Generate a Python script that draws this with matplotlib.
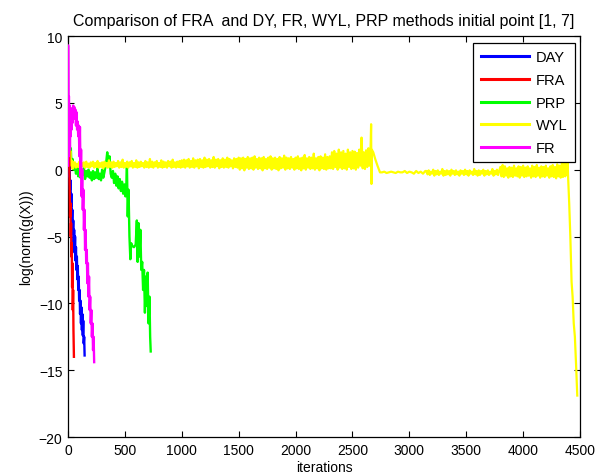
import numpy as np
import matplotlib
matplotlib.use("Agg")
import matplotlib.pyplot as plt

plt.rcParams['font.family'] = ['Liberation Sans', 'DejaVu Sans']

# ---------------- data ----------------
title = "Comparison of FRA  and DY, FR, WYL, PRP methods initial point [1, 7]"
xlabel = "iterations"
ylabel = "log(norm(g(X)))"
x_ticks = [0, 500, 1000, 1500, 2000, 2500, 3000, 3500, 4000, 4500]
y_ticks = [-20, -15, -10, -5, 0, 5, 10]

# DAY (blue)
day_x = [0, 3, 6, 10, 14, 18, 22, 26, 30, 34, 38, 42, 46, 50, 54, 58, 62, 66, 70,
         74, 78, 82, 86, 90, 94, 98, 102, 106, 110, 114, 118, 122, 126, 130, 134,
         138, 142, 146]
day_y = [0.5, 0.0, 0.4, -0.5, 0.2, -1.5, -0.8, -2.8, -1.8, -4.0, -3.0, -4.8, -3.8,
         -5.5, -4.5, -6.2, -5.0, -6.8, -5.8, -7.5, -6.5, -8.2, -7.2, -9.0, -8.0,
         -9.8, -9.0, -10.8, -9.8, -11.5, -10.3, -12.0, -10.8, -12.4, -11.3, -13.0,
         -12.5, -13.9]

# FRA (red)
fra_x = [0, 3, 6, 9, 12, 15, 18, 21, 24, 27, 30, 33, 36, 39, 42, 45, 48, 52]
fra_y = [0.5, 4.2, 2.5, 3.5, 0.0, -1.5, -3.5, -2.5, -5.0, -4.0, -6.5, -5.5, -8.8,
         -7.0, -10.5, -9.0, -12.0, -14.0]

# PRP (green)
prp_x = [0, 5, 10, 15, 20, 25, 30, 40, 50, 60, 70, 80, 90, 100, 110, 120, 130, 140,
         150, 160, 170, 180, 190, 200, 210, 220, 230, 240, 250, 260, 270, 280, 290,
         300, 310, 320, 335, 345, 355, 365, 375, 385, 395, 405, 415, 425, 435, 445,
         455, 465, 475, 485, 495, 505, 512, 518, 525, 532, 540, 548, 555, 565, 580,
         595, 605, 612, 620, 628, 636, 644, 652, 660, 668, 676, 684, 692, 700, 708,
         716, 722, 727]
prp_y = [0.5, 0.3, 1.0, 2.2, 0.5, 1.6, 0.2, 0.8, 0.0, 0.4, -0.3, 0.2, -0.5, 0.1,
         -0.6, 0.0, -0.4, 0.1, -0.7, -0.1, -0.5, 0.0, -0.6, -0.2, -0.8, -0.1, -0.7,
         -0.2, -0.6, 0.1, -0.7, -0.3, -0.8, 0.0, -0.6, -0.2, 0.5, 1.3, 0.3, 1.0,
         -0.3, -0.6, -0.1, -1.0, -0.3, -1.2, -0.5, -1.4, -0.7, -1.6, -0.9, -1.8,
         -1.1, -2.0, -1.3, 0.3, -3.5, -1.5, -5.0, -6.7, -5.5, -5.7, -5.8, -5.6,
         -3.8, -6.9, -4.0, -6.5, -4.5, -7.5, -6.9, -9.0, -7.5, -10.7, -8.0, -10.2,
         -7.7, -11.5, -9.5, -12.5, -13.6]

# WYL (yellow) - pieces: (first iteration, last iteration), values
wyl_head_x = [0, 4, 8, 12, 16, 20, 25, 30, 35, 40, 45, 50]
wyl_head_y = [0.4, 2.2, 0.6, 2.0, 0.3, 1.4, 0.2, 0.7, 0.1, 0.6, 0.1, 0.5]
wyl_b_range = (60, 1000)
wyl_b = [0.55, 0.15, 0.45, 0.2, 0.6, 0.1, 0.5, 0.25, 0.55, 0.15,
         0.6, 0.2, 0.45, 0.15, 0.55, 0.25, 0.6, 0.15, 0.5, 0.2,
         0.65, 0.15, 0.5, 0.2, 0.55, 0.1, 0.6, 0.25, 0.5, 0.15,
         0.7, 0.2, 0.55, 0.15, 0.6, 0.2, 0.5, 0.25, 0.65, 0.15,
         0.55, 0.2, 0.75, 0.15, 0.5, 0.2, 0.6, 0.15, 0.55, 0.25,
         0.65, 0.15, 0.5, 0.2, 0.7, 0.15, 0.55, 0.2, 0.6, 0.25,
         0.5, 0.15, 0.65, 0.2, 0.55, 0.15, 0.8, 0.2, 0.6, 0.15,
         0.55, 0.25, 0.65, 0.15, 0.5, 0.2, 0.7, 0.15, 0.6, 0.2,
         0.55, 0.15, 0.65, 0.25, 0.6, 0.15, 0.75, 0.2, 0.55, 0.15,
         0.6, 0.2, 0.65, 0.15, 0.7]
wyl_c_range = (1010, 1500)
wyl_c = [0.2, 0.75, 0.15, 0.7, 0.25, 0.8, 0.15, 0.65, 0.2, 0.85,
         0.15, 0.7, 0.25, 0.75, 0.1, 0.8, 0.2, 0.7, 0.15, 0.9,
         0.2, 0.75, 0.25, 0.8, 0.15, 0.7, 0.2, 0.95, 0.15, 0.75,
         0.25, 0.8, 0.1, 0.7, 0.2, 0.85, 0.15, 0.75, 0.2, 0.9,
         0.15, 0.8, 0.25, 0.7, 0.1, 0.85, 0.2, 0.8, 0.15, 0.9]
wyl_d_range = (1510, 2300)
wyl_d = [0.0, 0.85, 0.1, 0.9, -0.05, 0.8, 0.15, 0.95, 0.05, 0.85,
         0.1, 0.9, 0.0, 1.0, 0.15, 0.8, 0.05, 0.9, 0.1, 0.85,
         -0.05, 0.95, 0.1, 0.8, 0.05, 0.9, 0.15, 1.0, 0.0, 0.85,
         0.1, 0.9, 0.05, 0.8, -0.05, 0.95, 0.1, 0.85, 0.15, 1.05,
         0.0, 0.9, 0.1, 0.85, 0.05, 0.95, 0.15, 0.8, 0.0, 0.9,
         0.1, 1.0, 0.05, 0.85, -0.05, 0.9, 0.1, 1.1, 0.0, 0.85,
         0.15, 0.95, 0.05, 0.9, 0.1, 1.2, 0.0, 0.85, 0.1, 0.95,
         -0.05, 1.0, 0.1, 0.9, 0.05, 1.15, 0.0, 0.95, 0.1, 1.0]
wyl_e_range = (2310, 2660)
wyl_e = [0.1, 1.3, 0.05, 1.4, 0.2, 1.2, 0.0, 1.5, 0.15, 1.3,
         0.05, 1.4, 0.1, 1.2, 0.0, 1.5, 0.2, 1.3, 0.05, 1.4,
         0.1, 1.35, 0.0, 1.25, 0.15, 1.5, 0.3, 2.4, 0.1, 1.3,
         0.05, 1.45, 0.2, 1.6, 0.3, 1.8]
wyl_f_x = [2664, 2667, 2670, 2683, 2700, 2720, 2742]
wyl_f_y = [3.4, -1.07, 1.5, 1.3, 0.8, 0.3, -0.2]
wyl_g_range = (2760, 3140)
wyl_g = [-0.2, -0.15, -0.25, -0.2, -0.15, -0.2, -0.25, -0.15, -0.2, -0.2, -0.1,
         -0.25, -0.15, -0.2, -0.3, -0.1, -0.25, -0.15, -0.3, -0.1]
wyl_h_range = (3150, 4380)
wyl_h = [-0.1, -0.35, -0.05, -0.4, -0.15, -0.3, 0.0, -0.45, -0.1, -0.35,
         -0.05, -0.4, -0.15, -0.3, 0.05, -0.45, -0.1, -0.4, -0.05, -0.35,
         -0.1, -0.45, 0.0, -0.3, -0.1, -0.4, -0.05, -0.35, -0.15, -0.45,
         -0.05, -0.3, -0.1, -0.4, 0.0, -0.35, -0.1, -0.45, -0.05, -0.3,
         -0.15, -0.4, 0.05, -0.35, -0.1, -0.45, -0.05, -0.4, -0.1, -0.3,
         0.0, -0.45, -0.1, -0.35, -0.05, -0.4, -0.15, -0.3, 0.05, -0.45,
         -0.1, -0.35, 0.0, -0.4, -0.1,
         0.2, -0.5, 0.35, -0.55, 0.25, -0.45, 0.1, -0.6, 0.2, -0.5,
         0.15, -0.55, 0.3, -0.45, 0.1, -0.5, 0.25, -0.6, 0.2, -0.45,
         0.3, -0.55, 0.15, -0.5, 0.25, -0.45, 0.1, -0.6, 0.3, -0.5,
         0.2, -0.55, 0.35, -0.45, 0.15, -0.6, 0.25, -0.5, 0.2, -0.55,
         0.3, -0.45, 0.1, -0.6, 0.25, -0.5, 0.35, -0.55, 0.2, -0.65,
         0.4, -0.5, 0.3, -0.6, 0.5, -0.55, 0.7, -0.5, 0.95]
wyl_i_x = [4385, 4390, 4395, 4405, 4415, 4426, 4435, 4445, 4455, 4465, 4476]
wyl_i_y = [-0.4, 1.1, -0.45, -2.5, -5.0, -8.4, -9.5, -11.5, -12.5, -14.5, -16.9]

# FR (magenta)
fr_x = [0, 1, 3, 5, 8, 11, 14, 17, 20, 24, 28, 32, 36, 40, 45, 50, 55, 60, 65, 70,
        75, 80, 85, 90, 95, 100, 105, 110, 115, 120, 125, 130, 135, 140, 145, 150,
        155, 160, 165, 170, 175, 180, 185, 190, 195, 200, 205, 210, 215, 220, 225,
        230]
fr_y = [0.3, 9.3, 5.8, 1.0, 5.5, 2.0, 4.8, 1.5, 4.0, 2.5, 4.5, 3.0, 4.6, 3.5, 4.8,
        3.8, 4.7, 4.0, 4.5, 3.3, 4.3, 3.0, 3.6, 2.5, 3.3, 1.0, 3.2, -0.5, 1.5, -2.0,
        0.0, -3.0, -1.5, -4.5, -3.0, -6.0, -4.5, -7.0, -6.0, -8.5, -7.0, -9.5, -8.0,
        -10.5, -9.5, -11.5, -10.5, -12.5, -11.5, -13.5, -12.5, -14.4]

# ---------------- assemble WYL ----------------
wyl_x = list(wyl_head_x)
wyl_y = list(wyl_head_y)
for rng, vals in [(wyl_b_range, wyl_b), (wyl_c_range, wyl_c), (wyl_d_range, wyl_d),
                  (wyl_e_range, wyl_e)]:
    wyl_x += list(np.linspace(rng[0], rng[1], len(vals)))
    wyl_y += vals
wyl_x += wyl_f_x
wyl_y += wyl_f_y
for rng, vals in [(wyl_g_range, wyl_g), (wyl_h_range, wyl_h)]:
    wyl_x += list(np.linspace(rng[0], rng[1], len(vals)))
    wyl_y += vals
wyl_x += wyl_i_x
wyl_y += wyl_i_y

# ---------------- figure ----------------
W, H = 603, 477
fig = plt.figure(figsize=(W / 100, H / 100), dpi=100)
ax = fig.add_axes([68 / W, 1 - 438 / H, 512 / W, 401 / H])

lw = 1.7
ax.plot(day_x, day_y, color=(0, 0, 1), lw=lw, label='DAY', zorder=3)
ax.plot(fra_x, fra_y, color=(1, 0, 0), lw=lw, label='FRA', zorder=3)
ax.plot(prp_x, prp_y, color=(0, 1, 0), lw=lw, label='PRP', zorder=2)
ax.plot(wyl_x, wyl_y, color=(1, 1, 0), lw=1.6, label='WYL', zorder=2.5)
ax.plot(fr_x, fr_y, color=(1, 0, 1), lw=lw, label='FR', zorder=4)

ax.set_xlim(0, 4500)
ax.set_ylim(-20, 10)
ax.set_xticks(x_ticks)
ax.set_yticks(y_ticks)
ax.tick_params(direction='in', top=True, right=True, length=4, width=0.8,
               labelsize=10, pad=4, colors='black')
for s in ax.spines.values():
    s.set_linewidth(0.9)

ax.set_title(title, fontsize=11.5, pad=8)
ax.set_xlabel(xlabel, fontsize=10, labelpad=2.5)
ax.set_ylabel(ylabel, fontsize=10, labelpad=4)

leg = ax.legend(loc='upper right', bbox_to_anchor=(0.990, 0.983), borderaxespad=0,
                fontsize=10.5, handlelength=3.3, labelspacing=0.6, handletextpad=0.5,
                borderpad=0.5, fancybox=False, framealpha=1, edgecolor='black')
leg.get_frame().set_linewidth(0.9)
for line in leg.get_lines():
    line.set_linewidth(2.2)

fig.savefig('out.png', dpi=100)
